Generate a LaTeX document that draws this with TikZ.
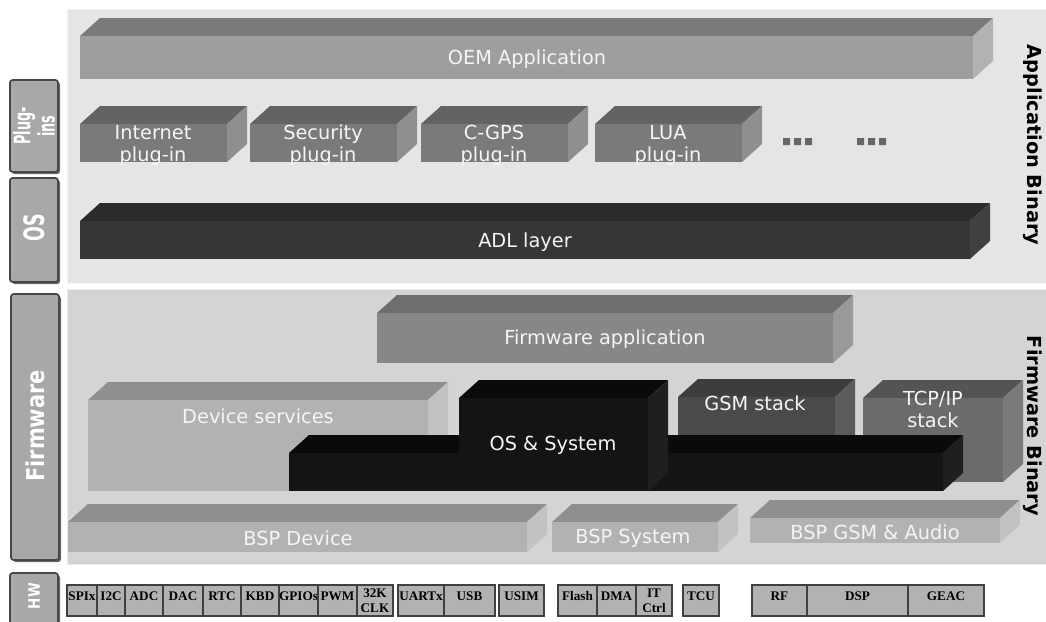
\documentclass[tikz,border=0pt]{standalone}
\usepackage{fontspec}
\setmainfont{DejaVu Sans}
\newfontfamily\hwfont{Liberation Serif}
\usepackage{tikz}

\begin{document}
\begin{tikzpicture}[x=0.02cm,y=-0.02cm,
  lbl/.style={text=black!4,font=\fontsize{11}{12.5}\selectfont,align=center,inner sep=0},
  plugtop/.style={fill=black!61}, plugfront/.style={fill=black!52}, plugside/.style={fill=black!44},
  bsptop/.style={fill=black!44}, bspfront/.style={fill=black!30}, bspside/.style={fill=black!24},
  ostop/.style={fill=black!96}, osfront/.style={fill=black!92}, osside/.style={fill=black!88},
  tab/.style={fill=black!34,draw=black!72,line width=1pt,rounded corners=1.5pt},
  tabshadow/.style={fill=black!60,rounded corners=1.5pt},
  tablbl/.style={text=white,rotate=90,align=center,inner sep=0},
  sidelbl/.style={font=\bfseries\fontsize{11}{12}\selectfont,rotate=-90,inner sep=0},
  hwcell/.style={draw=black!75,fill=black!30,line width=0.8pt},
  hwlbl/.style={font=\hwfont\bfseries\fontsize{7.5}{8.5}\selectfont,align=center,inner sep=0},
  dotsq/.style={fill=black!60}]
  \useasboundingbox (0,0) rectangle (1046,622);

  % panels
  \filldraw[fill=black!10,draw=black!4] (67,9) rectangle (1046,283);
  \filldraw[fill=black!17,draw=black!8] (67,289) rectangle (1046,564);

  % left tabs
  \fill[tabshadow] (12,82) rectangle (60,174);
  \draw[tab] (10,80) rectangle (58,172);
  \node[tablbl,font=\bfseries\fontsize{13}{11.5}\selectfont,xscale=0.56] (plugins) at (34,126) {Plug-\\ins};
  \fill[tabshadow] (12,180) rectangle (60,284);
  \draw[tab] (10,178) rectangle (58,282);
  \node[tablbl,font=\bfseries\fontsize{16}{16}\selectfont,xscale=0.62] (os) at (34,228) {OS};
  \fill[tabshadow] (13,296) rectangle (61,562);
  \draw[tab] (11,294) rectangle (59,560);
  \node[tablbl,font=\bfseries\fontsize{14}{14}\selectfont,xscale=0.85] (fw) at (35,426) {Firmware};
  \fill[tabshadow] (12,575) rectangle (60,630);
  \draw[tab] (10,573) rectangle (58,630);
  \node[tablbl,font=\bfseries\fontsize{9}{9}\selectfont,xscale=0.85] (hw) at (34,596) {HW};

  % right labels
  \node[sidelbl] (appbin) at (1033,145) {Application Binary};
  \node[sidelbl] (fwbin) at (1033,426) {Firmware Binary};

  % OEM application
  \fill[black!52] (80,36) -- ++(20,-18) -- (993,18) -- (973,36) -- cycle;
  \fill[black!30] (973,36) -- ++(20,-18) -- (993,61) -- (973,79) -- cycle;
  \fill[black!38] (80,36) rectangle (973,79);
  \node[lbl] (oem) at (527,59) {OEM Application};

  % plug-ins
  \fill[plugtop] (80,124) -- ++(20,-18) -- (247,106) -- (227,124) -- cycle;
  \fill[plugside] (227,124) -- ++(20,-18) -- (247,144) -- (227,162) -- cycle;
  \fill[plugfront] (80,124) rectangle (227,162);
  \node[lbl] (inet) at (153,145) {Internet\\plug-in};
  \fill[plugtop] (250,124) -- ++(20,-18) -- (417,106) -- (397,124) -- cycle;
  \fill[plugside] (397,124) -- ++(20,-18) -- (417,144) -- (397,162) -- cycle;
  \fill[plugfront] (250,124) rectangle (397,162);
  \node[lbl] (secu) at (323,145) {Security\\plug-in};
  \fill[plugtop] (421,124) -- ++(20,-18) -- (588,106) -- (568,124) -- cycle;
  \fill[plugside] (568,124) -- ++(20,-18) -- (588,144) -- (568,162) -- cycle;
  \fill[plugfront] (421,124) rectangle (568,162);
  \node[lbl] (cgps) at (494,145) {C-GPS\\plug-in};
  \fill[plugtop] (595,124) -- ++(20,-18) -- (762,106) -- (742,124) -- cycle;
  \fill[plugside] (742,124) -- ++(20,-18) -- (762,144) -- (742,162) -- cycle;
  \fill[plugfront] (595,124) rectangle (742,162);
  \node[lbl] (lua) at (668,145) {LUA\\plug-in};
  \fill[dotsq] (783,138) rectangle ++(7,7) (794,138) rectangle ++(7,7) (805,138) rectangle ++(7,7);
  \fill[dotsq] (857,138) rectangle ++(7,7) (868,138) rectangle ++(7,7) (879,138) rectangle ++(7,7);

  % ADL layer
  \fill[black!83] (80,221) -- ++(20,-18) -- (990,203) -- (970,221) -- cycle;
  \fill[black!75] (970,221) -- ++(20,-18) -- (990,241) -- (970,259) -- cycle;
  \fill[black!79] (80,221) rectangle (970,259);
  \node[lbl] (adl) at (525,242) {ADL layer};

  % firmware application
  \fill[black!57] (377,313) -- ++(20,-18) -- (853,295) -- (833,313) -- cycle;
  \fill[black!40] (833,313) -- ++(20,-18) -- (853,345) -- (833,363) -- cycle;
  \fill[black!47] (377,313) rectangle (833,363);
  \node[lbl] (fwapp) at (605,339) {Firmware application};

  % device services
  \fill[black!44] (88,400) -- ++(20,-18) -- (448,382) -- (428,400) -- cycle;
  \fill[black!24] (428,400) -- ++(20,-18) -- (448,473) -- (428,491) -- cycle;
  \fill[black!30] (88,400) rectangle (428,491);
  \node[lbl] (devsrv) at (258,416) {Device services};

  % GSM stack
  \fill[black!76] (678,397) -- ++(20,-18) -- (855,379) -- (835,397) -- cycle;
  \fill[black!64] (835,397) -- ++(20,-18) -- (855,473) -- (835,491) -- cycle;
  \fill[black!71] (678,397) rectangle (835,491);
  \node[lbl] (gsm) at (755,403) {GSM stack};

  % TCP/IP stack
  \fill[black!67] (863,398) -- ++(20,-18) -- (1023,380) -- (1003,398) -- cycle;
  \fill[black!52] (1003,398) -- ++(20,-18) -- (1023,464) -- (1003,482) -- cycle;
  \fill[black!58] (863,398) rectangle (1003,482);
  \node[lbl] (tcpip) at (933,409) {TCP/IP\\stack};

  % OS & System
  \fill[ostop] (289,453) -- ++(20,-18) -- (963,435) -- (943,453) -- cycle;
  \fill[osside] (943,453) -- ++(20,-18) -- (963,473) -- (943,491) -- cycle;
  \fill[osfront] (289,453) rectangle (943,491);
  \fill[ostop] (459,398) -- ++(20,-18) -- (668,380) -- (648,398) -- cycle;
  \fill[osside] (648,398) -- ++(20,-18) -- (668,473) -- (648,491) -- cycle;
  \fill[osfront] (459,398) rectangle (648,491);
  \node[lbl] (ossys) at (553,445) {OS \& System};

  % BSP
  \fill[bsptop] (68,522) -- ++(20,-18) -- (547,504) -- (527,522) -- cycle;
  \fill[bspside] (527,522) -- ++(20,-18) -- (547,534) -- (527,552) -- cycle;
  \fill[bspfront] (68,522) rectangle (527,552);
  \node[lbl] (bspdev) at (298,538) {BSP Device};
  \fill[bsptop] (552,522) -- ++(20,-18) -- (738,504) -- (718,522) -- cycle;
  \fill[bspside] (718,522) -- ++(20,-18) -- (738,534) -- (718,552) -- cycle;
  \fill[bspfront] (552,522) rectangle (718,552);
  \node[lbl] (bspsys) at (633,538) {BSP System};
  \fill[bsptop] (750,518) -- ++(20,-18) -- (1020,500) -- (1000,518) -- cycle;
  \fill[bspside] (1000,518) -- ++(20,-18) -- (1020,525) -- (1000,543) -- cycle;
  \fill[bspfront] (750,518) rectangle (1000,543);
  \node[lbl] (bspgsm) at (875,532) {BSP GSM \& Audio};

  % hardware
  \draw[hwcell] (67,585) rectangle (97,616);
  \node[hwlbl] (spix) at (82,596) {SPIx};
  \draw[hwcell] (97,585) rectangle (125,616);
  \node[hwlbl] (itwoc) at (111,596) {I2C};
  \draw[hwcell] (125,585) rectangle (163,616);
  \node[hwlbl] (adc) at (144,596) {ADC};
  \draw[hwcell] (163,585) rectangle (203,616);
  \node[hwlbl] (dac) at (183,596) {DAC};
  \draw[hwcell] (203,585) rectangle (241,616);
  \node[hwlbl] (rtc) at (222,596) {RTC};
  \draw[hwcell] (241,585) rectangle (279,616);
  \node[hwlbl] (kbd) at (260,596) {KBD};
  \draw[hwcell] (279,585) rectangle (318,616);
  \node[hwlbl] (gpio) at (298.5,596) {GPIOs};
  \draw[hwcell] (318,585) rectangle (357,616);
  \node[hwlbl] (pwm) at (337.5,596) {PWM};
  \draw[hwcell] (357,585) rectangle (393,616);
  \node[hwlbl] (clk) at (375,601) {32K\\CLK};
  \draw[hwcell] (398,585) rectangle (444,616);
  \node[hwlbl] (uart) at (421,596) {UARTx};
  \draw[hwcell] (444,585) rectangle (495,616);
  \node[hwlbl] (usb) at (469.5,596) {USB};
  \draw[hwcell] (499,585) rectangle (544,616);
  \node[hwlbl] (usim) at (521.5,596) {USIM};
  \draw[hwcell] (558,585) rectangle (597,616);
  \node[hwlbl] (flash) at (577.5,596) {Flash};
  \draw[hwcell] (597,585) rectangle (636,616);
  \node[hwlbl] (dma) at (616.5,596) {DMA};
  \draw[hwcell] (636,585) rectangle (672,616);
  \node[hwlbl] (itctrl) at (654,601) {IT\\Ctrl};
  \draw[hwcell] (683,585) rectangle (719,616);
  \node[hwlbl] (tcu) at (701,596) {TCU};
  \draw[hwcell] (752,585) rectangle (807,616);
  \node[hwlbl] (rf) at (779.5,596) {RF};
  \draw[hwcell] (807,585) rectangle (908,616);
  \node[hwlbl] (dsp) at (857.5,596) {DSP};
  \draw[hwcell] (908,585) rectangle (984,616);
  \node[hwlbl] (geac) at (946,596) {GEAC};
\end{tikzpicture}
\end{document}
